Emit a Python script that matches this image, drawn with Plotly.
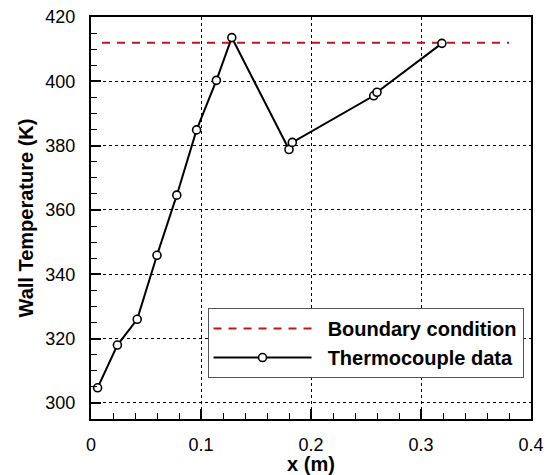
import plotly.graph_objects as go

# Data
tc_x = [0.006, 0.024, 0.042, 0.060, 0.078, 0.096, 0.114, 0.128, 0.180, 0.183, 0.257, 0.260, 0.319]
tc_T = [304.7, 318.0, 326.0, 345.9, 364.6, 384.9, 400.3, 413.6, 378.8, 381.0, 395.5, 396.6, 411.8]
bc_x = [0.01, 0.38]
bc_T = [412.0, 412.0]

x_ticks = [0, 0.1, 0.2, 0.3, 0.4]
x_ticklabels = ["0", "0.1", "0.2", "0.3", "0.4"]
y_ticks = [300, 320, 340, 360, 380, 400, 420]

font_family = "Liberation Sans, Arial, Helvetica, sans-serif"
pad = "\u00a0\u00a0"

fig = go.Figure()
fig.add_trace(go.Scatter(
    x=bc_x, y=bc_T, mode="lines", name=pad + "<b>Boundary condition</b>",
    line=dict(color="#c0161c", width=2, dash="8px,7px"),
))
fig.add_trace(go.Scatter(
    x=tc_x, y=tc_T, mode="lines+markers", name=pad + "<b>Thermocouple data</b>",
    line=dict(color="black", width=2),
    marker=dict(symbol="circle", size=8, color="white", line=dict(color="black", width=1.6)),
))

axis_common = dict(
    showline=True, mirror=True, linecolor="black", linewidth=2,
    ticks="inside", ticklen=10, tickwidth=1.5, tickcolor="black",
    showgrid=True, gridcolor="black", gridwidth=1, griddash="dot",
    zeroline=False, automargin=False,
    tickfont=dict(family=font_family, size=18, color="black"),
)

fig.update_layout(
    width=554, height=475,
    margin=dict(l=91, r=23, t=17, b=56),
    paper_bgcolor="white", plot_bgcolor="white",
    font=dict(family=font_family, color="black"),
    xaxis=dict(
        range=[0, 0.4], tickvals=x_ticks, ticktext=x_ticklabels,
        title=dict(text="<b>x (m)</b>", font=dict(family=font_family, size=20), standoff=7),
        minor=dict(dtick=0.02, tick0=0, ticks="inside", ticklen=6, tickwidth=1.2, tickcolor="black", showgrid=False),
        ticklabelstandoff=8,
        **axis_common,
    ),
    yaxis=dict(
        range=[295, 420], tickvals=y_ticks,
        title=dict(text="<b>Wall Temperature (K)</b>", font=dict(family=font_family, size=20), standoff=6),
        minor=dict(dtick=5, tick0=300, ticks="inside", ticklen=6, tickwidth=1.2, tickcolor="black", showgrid=False),
        ticklabelstandoff=10,
        **axis_common,
    ),
    legend=dict(
        x=0.983, y=0.276, xanchor="right", yanchor="top",
        bgcolor="white", bordercolor="#555", borderwidth=1,
        font=dict(family=font_family, size=20, color="black"),
        itemwidth=98, tracegroupgap=0,
    ),
    showlegend=True,
)

fig.write_html("out.html", config={"displayModeBar": False},
               post_script="document.body.style.margin='0';document.body.style.overflow='hidden';")
